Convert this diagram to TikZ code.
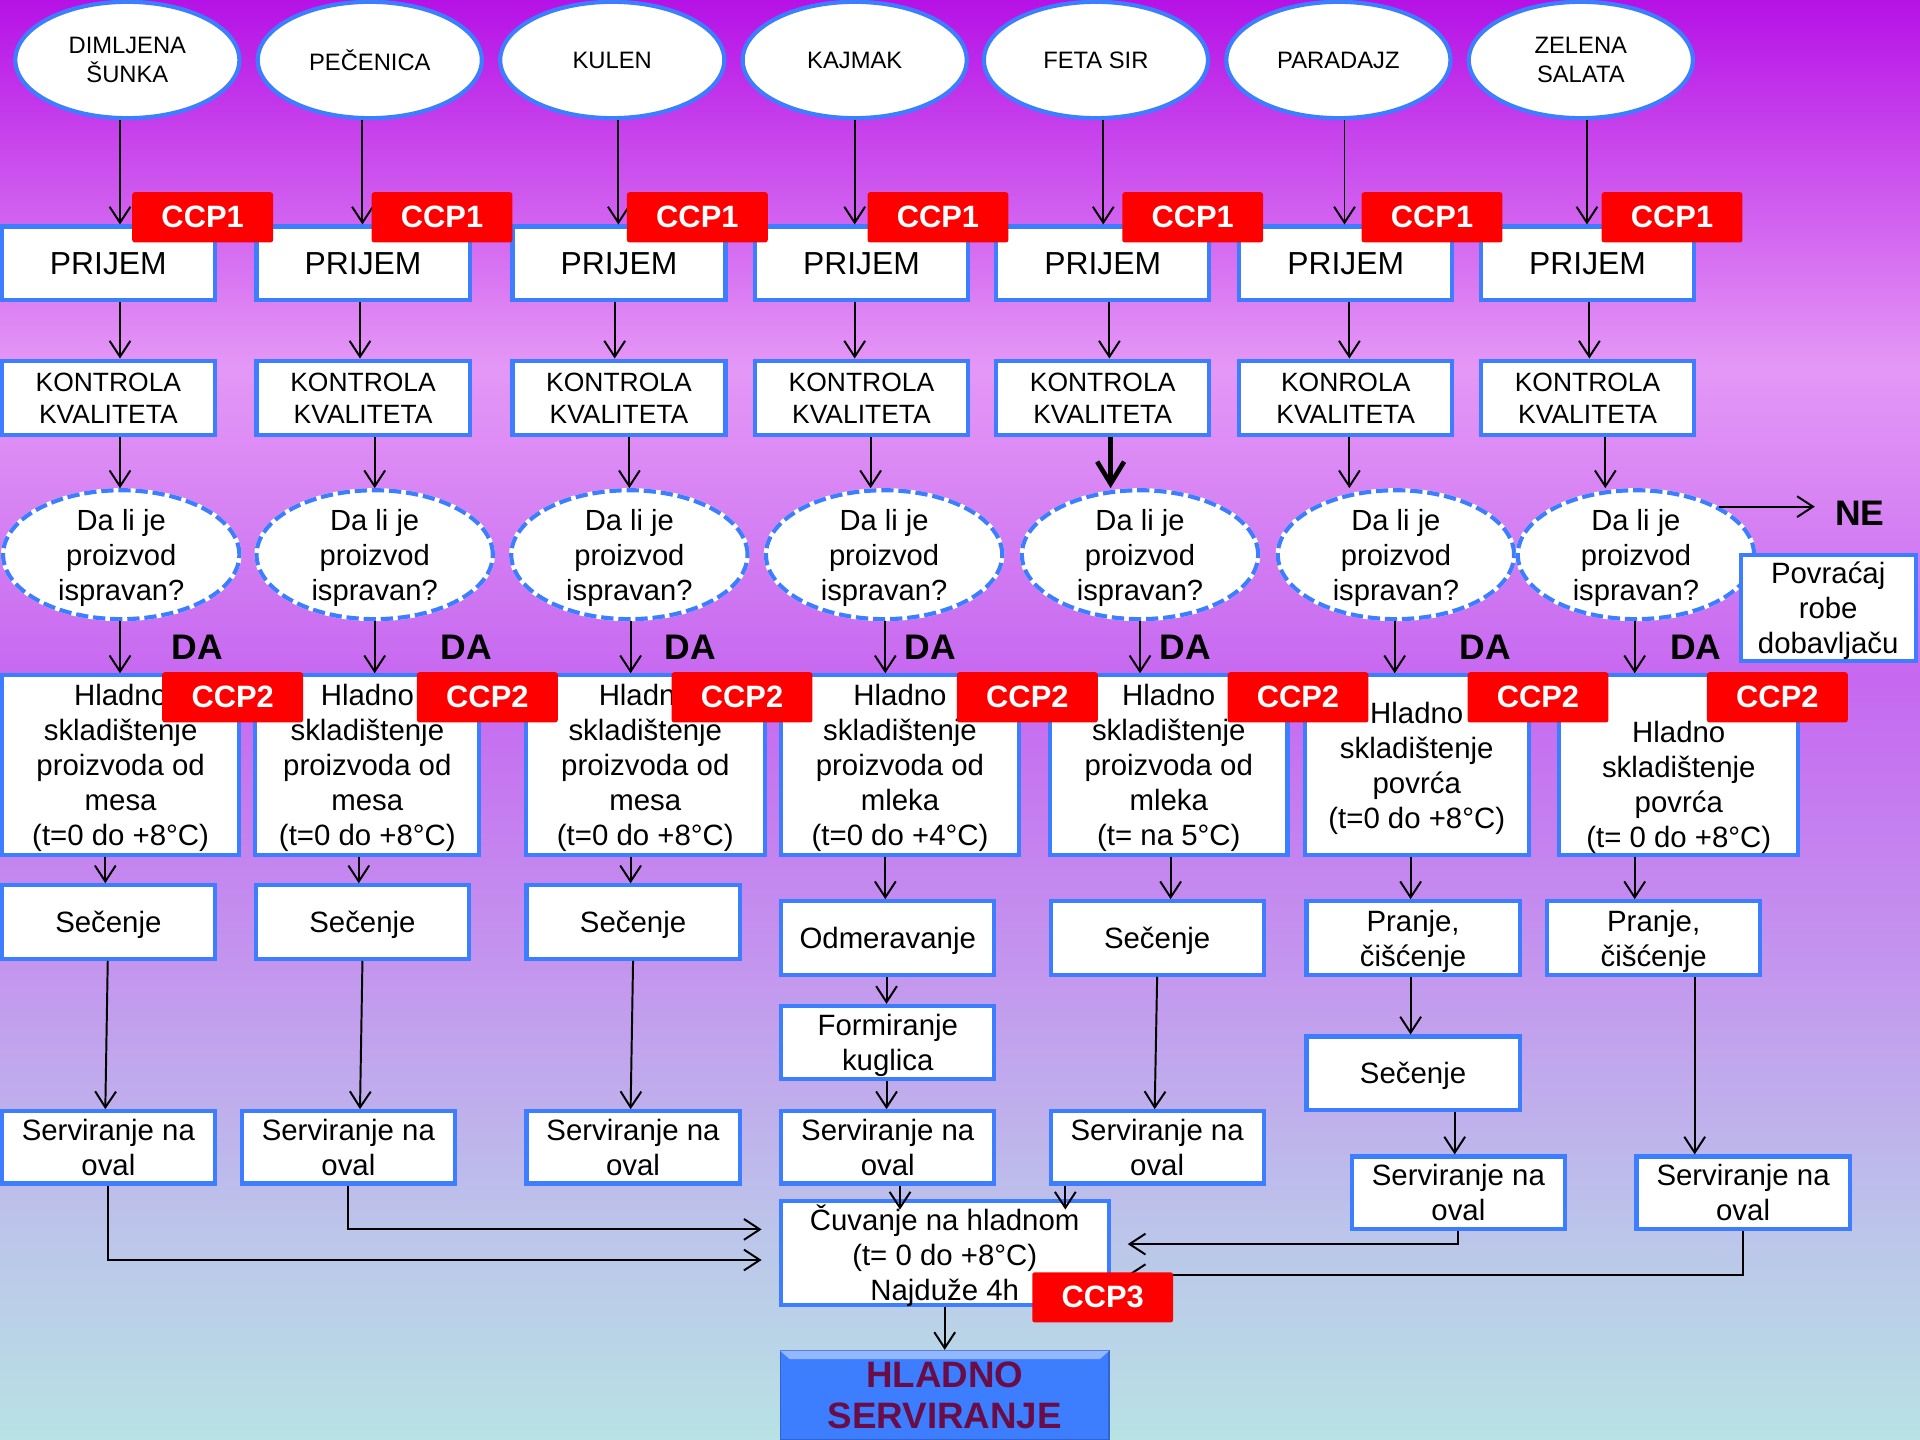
\documentclass[tikz,border=0pt]{standalone}
\usepackage{fontspec}
\setmainfont{Liberation Sans}
\usetikzlibrary{shapes.geometric,arrows.meta}

\definecolor{boxblue}{RGB}{61,125,255}
\definecolor{ccpred}{RGB}{255,0,0}
\definecolor{endtext}{RGB}{106,12,70}
\definecolor{bgA}{RGB}{182,18,230}
\definecolor{bgB}{RGB}{228,152,246}
\definecolor{bgC}{RGB}{198,104,240}
\definecolor{bgD}{RGB}{195,152,238}
\definecolor{bgE}{RGB}{188,196,234}
\definecolor{bgF}{RGB}{184,226,228}

\tikzset{every picture/.style={line width=0.8pt}}
\tikzset{
  arr/.style={-{Straight Barb[length=6.5pt,width=8.5pt]}},
  food/.style={ellipse, draw=boxblue, line width=1.7pt, fill=white, minimum width=91.5pt, minimum height=47.5pt, inner sep=0pt, align=center, font=\fontsize{9.7}{11.5}\selectfont},
  stepbox/.style={rectangle, draw=boxblue, line width=1.7pt, fill=white, minimum width=87pt, minimum height=30pt, inner sep=0pt, text depth=0pt, align=center, font=\fontsize{12}{14.3}\selectfont},
  bigstep/.style={stepbox, font=\fontsize{13}{15}\selectfont},
  qcheck/.style={stepbox, minimum height=30.5pt, font=\fontsize{10.8}{13}\selectfont},
  question/.style={ellipse, draw=boxblue, dash pattern=on 5pt off 2pt, line width=1.7pt, fill=white, preaction={draw=white, solid, line width=1.7pt}, minimum width=96.5pt, minimum height=49pt, inner sep=0pt, text depth=0pt, align=center, font=\fontsize{11.9}{14.3}\selectfont},
  storebox/.style={stepbox, minimum height=73.5pt},
  ccp/.style={rectangle, fill=ccpred, rounded corners=1pt, minimum width=57.5pt, minimum height=20.5pt, inner sep=0pt, text=white, font=\bfseries\fontsize{12.6}{14}\selectfont},
  yesno/.style={inner sep=0pt, font=\bfseries\fontsize{14.5}{16}\selectfont},
}

\begin{document}
\begin{tikzpicture}[x=0.5pt,y=0.5pt,yscale=-1,xscale=1]
\useasboundingbox (0,0) rectangle (1568,1176);
\clip (0,0) rectangle (1568,1176);

%Shape: Background
\shade [top color=bgA,bottom color=bgB] (0,0) rectangle (1568,301);
\shade [top color=bgB,bottom color=bgC] (0,300) rectangle (1568,556);
\shade [top color=bgC,bottom color=bgD] (0,555) rectangle (1568,801);
\shade [top color=bgD,bottom color=bgE] (0,800) rectangle (1568,1001);
\shade [top color=bgE,bottom color=bgF] (0,1000) rectangle (1568,1176);

%Shape: Ellipse (products)
\node [food] (e1) at (104,49) {DIMLJENA\\ŠUNKA};
\node [food] (e2) at (302,49) {PEČENICA};
\node [food] (e3) at (500,49) {KULEN};
\node [food] (e4) at (698,49) {KAJMAK};
\node [food] (e5) at (895,49) {FETA SIR};
\node [food] (e6) at (1093,49) {PARADAJZ};
\node [food] (e7) at (1291,49) {ZELENA\\SALATA};

%Shape: Rectangle (prijem)
\node [bigstep] (p1) at (88.5,215) {PRIJEM};
\node [bigstep] (p2) at (296.5,215) {PRIJEM};
\node [bigstep] (p3) at (505.5,215) {PRIJEM};
\node [bigstep] (p4) at (703.5,215) {PRIJEM};
\node [bigstep] (p5) at (900.5,215) {PRIJEM};
\node [bigstep] (p6) at (1099,215) {PRIJEM};
\node [bigstep] (p7) at (1296.5,215) {PRIJEM};

%Shape: Rectangle (kontrola)
\node [qcheck] (k1) at (88.5,325) {KONTROLA\\KVALITETA};
\node [qcheck] (k2) at (296.5,325) {KONTROLA\\KVALITETA};
\node [qcheck] (k3) at (505.5,325) {KONTROLA\\KVALITETA};
\node [qcheck] (k4) at (703.5,325) {KONTROLA\\KVALITETA};
\node [qcheck] (k5) at (900.5,325) {KONTROLA\\KVALITETA};
\node [qcheck] (k6) at (1099,325) {KONROLA\\KVALITETA};
\node [qcheck] (k7) at (1296.5,325) {KONTROLA\\KVALITETA};

%Shape: Ellipse (pitanje)
\node [question] (d1) at (99,453) {Da li je\\proizvod\\ispravan?};
\node [question] (d2) at (306,453) {Da li je\\proizvod\\ispravan?};
\node [question] (d3) at (514,453) {Da li je\\proizvod\\ispravan?};
\node [question] (d4) at (722,453) {Da li je\\proizvod\\ispravan?};
\node [question] (d5) at (931,453) {Da li je\\proizvod\\ispravan?};
\node [question] (d6) at (1140,453) {Da li je\\proizvod\\ispravan?};
\node [question] (d7) at (1336,453) {Da li je\\proizvod\\ispravan?};

\node [stepbox, minimum width=71.5pt, minimum height=43pt] (pov) at (1493,496.5) {Povraćaj\\robe\\dobavljaču};

%Shape: Rectangle (skladistenje)
\node [storebox, minimum width=97pt] (h1) at (98.5,625) {Hladno\\skladištenje\\proizvoda od\\mesa\\(t=0 do +8°C)};
\node [storebox, minimum width=91.5pt] (h2) at (300,625) {Hladno\\skladištenje\\proizvoda od\\mesa\\(t=0 do +8°C)};
\node [storebox, minimum width=97.5pt] (h3) at (527,625) {Hladno\\skladištenje\\proizvoda od\\mesa\\(t=0 do +8°C)};
\node [storebox, minimum width=97.5pt] (h4) at (735,625) {Hladno\\skladištenje\\proizvoda od\\mleka\\(t=0 do +4°C)};
\node [storebox, minimum width=97pt] (h5) at (954.5,625) {Hladno\\skladištenje\\proizvoda od\\mleka\\(t= na 5°C)};
\node [storebox, minimum width=91.5pt] (h6) at (1157,625) {Hladno\\skladištenje\\povrća\\(t=0 do +8°C)};
\node [storebox, minimum width=97.5pt] (h7) at (1371,625) {\strut\\Hladno\\skladištenje\\povrća\\(t= 0 do +8°C)};

%Shape: Rectangle (obrada)
\node [stepbox] (s1) at (88.5,753) {Sečenje};
\node [stepbox] (s2) at (296,753) {Sečenje};
\node [stepbox] (s3) at (517,753) {Sečenje};
\node [stepbox] (o4) at (725,766) {Odmeravanje};
\node [stepbox] (s5) at (945,766) {Sečenje};
\node [stepbox] (w6) at (1154,766) {Pranje,\\čišćenje};
\node [stepbox] (w7) at (1350.5,766) {Pranje,\\čišćenje};
\node [stepbox] (f4) at (725,851.5) {Formiranje\\kuglica};
\node [stepbox] (c6) at (1154,876.5) {Sečenje};

%Shape: Rectangle (serviranje)
\node [stepbox, minimum height=29.5pt] (sv1) at (88.5,937) {Serviranje na\\oval};
\node [stepbox, minimum height=29.5pt] (sv2) at (284.5,937) {Serviranje na\\oval};
\node [stepbox, minimum height=29.5pt] (sv3) at (517,937) {Serviranje na\\oval};
\node [stepbox, minimum height=29.5pt] (sv4) at (725,937) {Serviranje na\\oval};
\node [stepbox, minimum height=29.5pt] (sv5) at (945,937) {Serviranje na\\oval};
\node [stepbox, minimum height=29.5pt] (sv6) at (1191,974) {Serviranje na\\oval};
\node [stepbox, minimum height=29.5pt] (sv7) at (1423.5,974) {Serviranje na\\oval};

\node [stepbox, minimum width=134pt, minimum height=42.5pt] (cu) at (771.5,1023) {Čuvanje na hladnom\\(t= 0 do +8°C)\\Najduže 4h};

\node [rectangle, fill=boxblue, draw=boxblue!80!black, line width=0.6pt, minimum width=134pt, minimum height=36.5pt, inner sep=0pt, align=center, text=endtext, font=\bfseries\fontsize{15}{16.5}\selectfont] (hs) at (771.5,1139.5) {HLADNO\\SERVIRANJE};
\fill [boxblue!55!white] (637,1103) -- (906,1103) -- (898,1110) -- (645,1110) -- cycle;

% Text Node
\node [yesno] (da1) at (161,529) {DA};
\node [yesno] (da2) at (381,529) {DA};
\node [yesno] (da3) at (564,529) {DA};
\node [yesno] (da4) at (760,529) {DA};
\node [yesno] (da5) at (968,529) {DA};
\node [yesno] (da6) at (1213,529) {DA};
\node [yesno] (da7) at (1385,529) {DA};
\node [yesno, inner sep=8pt] (ne) at (1519,419) {NE};

% Arrows, column 1
\draw [arr] (e1.south -| 98,0) -- (p1.north -| 98,0);
\draw [arr] (p1.south -| 98,0) -- (k1.north -| 98,0);
\draw [arr] (k1.south -| 98,0) -- (d1.north -| 98,0);
\draw [arr] (d1.south -| 98,0) -- (h1.north -| 98,0);
\draw [arr] (h1.south -| 86,0) -- (s1.north -| 86,0);
\draw [arr] (s1.south -| 88,0) -- (sv1.north -| 86,0);
% Arrows, column 2
\draw [arr] (e2.south -| 296,0) -- (p2.north -| 296,0);
\draw [arr] (p2.south -| 294,0) -- (k2.north -| 294,0);
\draw [arr] (k2.south -| 306,0) -- (d2.north -| 306,0);
\draw [arr] (d2.south -| 306,0) -- (h2.north -| 306,0);
\draw [arr] (h2.south -| 293,0) -- (s2.north -| 293,0);
\draw [arr] (s2.south -| 296,0) -- (sv2.north -| 294,0);
% Arrows, column 3
\draw [arr] (e3.south -| 505,0) -- (p3.north -| 505,0);
\draw [arr] (p3.south -| 502,0) -- (k3.north -| 502,0);
\draw [arr] (k3.south -| 514,0) -- (d3.north -| 514,0);
\draw [arr] (d3.south -| 515,0) -- (h3.north -| 515,0);
\draw [arr] (h3.south -| 515,0) -- (s3.north -| 515,0);
\draw [arr] (s3.south -| 517,0) -- (sv3.north -| 515,0);
% Arrows, column 4
\draw [arr] (e4.south -| 698,0) -- (p4.north -| 698,0);
\draw [arr] (p4.south -| 698,0) -- (k4.north -| 698,0);
\draw [arr] (k4.south -| 711,0) -- (d4.north -| 711,0);
\draw [arr] (d4.south -| 723,0) -- (h4.north -| 723,0);
\draw [arr] (h4.south -| 723,0) -- (o4.north -| 723,0);
\draw [arr] (o4.south -| 724,0) -- (f4.north -| 724,0);
\draw [arr] (f4.south -| 724,0) -- (sv4.north -| 724,0);
\draw [arr, shorten >=-4.5pt] (sv4.south -| 735,0) -- (cu.north -| 735,0);
% Arrows, column 5
\draw [arr] (e5.south -| 901,0) -- (p5.north -| 901,0);
\draw [arr] (p5.south -| 906,0) -- (k5.north -| 906,0);
\draw [line width=1.9pt, -{Straight Barb[length=9pt,width=11pt]}] (k5.south -| 907,0) -- (d5.north -| 907,0);
\draw [arr] (d5.south -| 931,0) -- (h5.north -| 931,0);
\draw [arr] (h5.south -| 956,0) -- (s5.north -| 956,0);
\draw [arr] (s5.south -| 945,0) -- (sv5.north -| 943,0);
\draw [arr, shorten >=-4.5pt] (sv5.south -| 870,0) -- (cu.north -| 870,0);
% Arrows, column 6
\draw [arr] (e6.south -| 1098,0) -- (p6.north -| 1098,0);
\draw [arr] (p6.south -| 1102,0) -- (k6.north -| 1102,0);
\draw [arr] (k6.south -| 1102,0) -- (d6.north -| 1102,0);
\draw [arr] (d6.south -| 1139,0) -- (h6.north -| 1139,0);
\draw [arr] (h6.south -| 1152,0) -- (w6.north -| 1152,0);
\draw [arr] (w6.south -| 1152,0) -- (c6.north -| 1152,0);
\draw [arr] (c6.south -| 1188,0) -- (sv6.north -| 1188,0);
% Arrows, column 7
\draw [arr] (e7.south -| 1296,0) -- (p7.north -| 1296,0);
\draw [arr] (p7.south -| 1298,0) -- (k7.north -| 1298,0);
\draw [arr] (k7.south -| 1311,0) -- (d7.north -| 1311,0);
\draw [arr] (d7.south -| 1335,0) -- (h7.north -| 1335,0);
\draw [arr] (h7.south -| 1335,0) -- (w7.north -| 1335,0);
\draw [arr] (w7.south -| 1384,0) -- (sv7.north -| 1384,0);
\draw [arr] (d7.30) -- (d7.30 -| ne.west);

% Arrows into cold storage
\coordinate (cin1) at (622,1029);
\coordinate (cin2) at (622,1004);
\coordinate (cin3) at (921,1016);
\coordinate (cin4) at (921,1041);
\draw [arr] (sv1.south) |- (cin1);
\draw [arr] (sv2.south) |- (cin2);
\draw [arr] (sv6.south) |- (cin3);
\draw [arr] (sv7.south) |- (cin4);
\draw [arr] (cu.south) -- (hs.north);

%Shape: CCP labels
\node [ccp] (ccpa1) at (165.5,177.5) {CCP1};
\node [ccp] (ccpa2) at (361,177.5) {CCP1};
\node [ccp] (ccpa3) at (569.5,177.5) {CCP1};
\node [ccp] (ccpa4) at (766,177.5) {CCP1};
\node [ccp] (ccpa5) at (974,177.5) {CCP1};
\node [ccp] (ccpa6) at (1169.5,177.5) {CCP1};
\node [ccp] (ccpa7) at (1365.5,177.5) {CCP1};
\node [ccp] (ccpb1) at (190,569.5) {CCP2};
\node [ccp] (ccpb2) at (398,569.5) {CCP2};
\node [ccp] (ccpb3) at (606,569.5) {CCP2};
\node [ccp] (ccpb4) at (839,569.5) {CCP2};
\node [ccp] (ccpb5) at (1060,569.5) {CCP2};
\node [ccp] (ccpb6) at (1256,569.5) {CCP2};
\node [ccp] (ccpb7) at (1451.5,569.5) {CCP2};
\node [ccp] (ccpc) at (900.5,1059.5) {CCP3};

\end{tikzpicture}
\end{document}
